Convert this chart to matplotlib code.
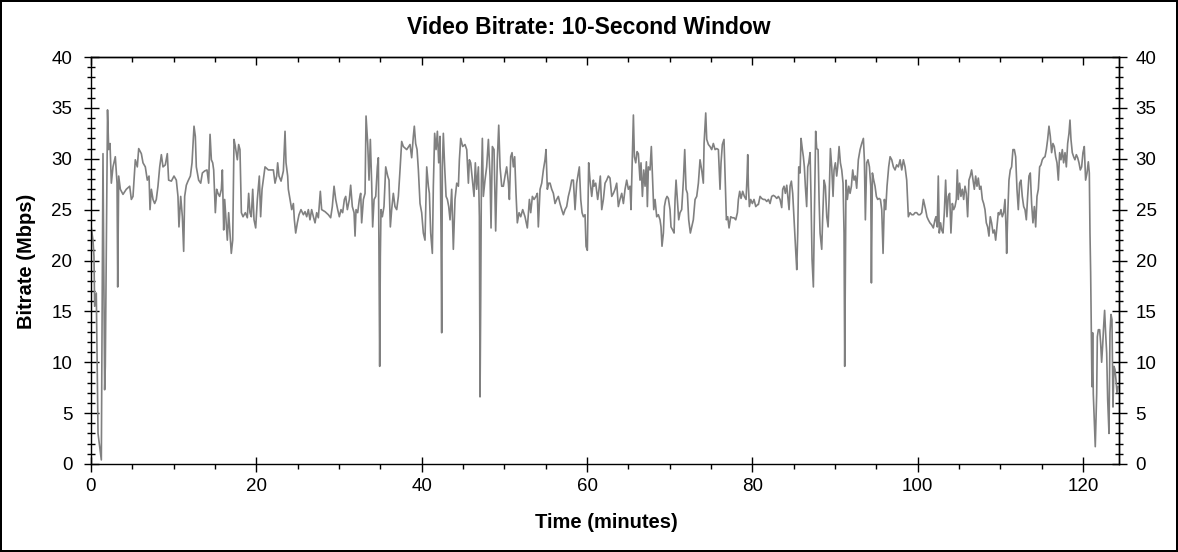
import numpy as np
import matplotlib.pyplot as plt
from matplotlib.ticker import MultipleLocator

plt.rcParams['font.family'] = ['Liberation Sans', 'DejaVu Sans']

t1 = [0.04, 0.24, 0.36, 0.44, 0.64, 0.85, 1.05, 1.25, 1.45, 1.65, 1.73, 2.0, 2.14, 2.30, 2.46,
      2.66, 2.94, 3.15, 3.23, 3.35, 3.55, 3.87, 4.27, 4.68, 4.88, 5.08, 5.36, 5.60, 5.77, 6.09,
      6.29, 6.57, 6.81, 7.02, 7.14, 7.30, 7.50, 7.70, 7.90, 8.10, 8.31, 8.51, 8.71, 8.99, 9.23,
      9.39, 9.72, 10.04, 10.32, 10.52, 10.64, 10.85, 11.05, 11.21, 11.33, 11.53, 11.73, 12.02, 12.22, 12.46,
      12.62, 12.74, 13.02, 13.27, 13.47, 13.75, 14.03, 14.23, 14.40, 14.56, 14.72, 14.84, 15.04, 15.20, 15.36,
      15.56, 15.77, 15.89, 16.05, 16.17, 16.33, 16.49, 16.65, 16.81, 16.97, 17.14, 17.30, 17.46, 17.70, 17.86,
      18.02, 18.19, 18.39, 18.67, 18.91, 19.07, 19.23, 19.39, 19.56, 19.72, 19.92, 20.12, 20.36, 20.52, 20.69]
v1 = [23.2, 22.0, 20.4, 15.5, 16.8, 3.0, 1.7, 0.4, 30.5, 7.3, 9.6, 34.8, 30.9, 31.5, 27.6,
      29.2, 30.2, 27.6, 17.4, 28.3, 27.0, 26.5, 27.0, 27.3, 26.0, 26.3, 29.9, 29.2, 31.0, 30.5,
      29.6, 29.2, 27.9, 28.3, 25.0, 27.0, 26.0, 25.6, 26.0, 27.3, 29.2, 30.4, 29.2, 29.4, 30.5,
      27.9, 27.8, 28.3, 27.9, 26.3, 23.3, 26.3, 24.3, 20.9, 26.3, 27.4, 27.8, 28.3, 29.6, 33.2,
      32.2, 29.2, 27.9, 27.6, 28.6, 28.8, 28.9, 27.6, 32.4, 29.9, 29.6, 28.9, 24.7, 27.0, 26.6,
      26.3, 27.0, 28.9, 23.0, 26.0, 24.0, 22.0, 24.7, 22.7, 20.7, 22.0, 31.9, 31.2, 29.9, 31.4,
      30.9, 24.7, 24.3, 24.7, 24.2, 26.6, 24.7, 24.3, 27.0, 24.0, 23.2, 26.0, 28.3, 24.3, 27.0]

t2 = [21.05, 21.45, 22.06, 22.26, 22.46, 22.58, 22.74, 22.99, 23.27, 23.47, 23.59, 23.79, 23.87, 24.07, 24.28,
      24.48, 24.60, 24.76, 24.96, 25.16, 25.40, 25.69, 25.89, 26.09, 26.29, 26.49, 26.69, 26.90, 27.10, 27.30,
      27.50, 27.74, 27.90, 28.31, 28.71, 28.99, 29.19, 29.40, 29.60, 29.84, 30.04, 30.24, 30.44, 30.65, 30.81,
      31.01, 31.25, 31.41, 31.61, 31.82, 31.94, 32.06, 32.26, 32.46, 32.62, 32.74, 32.95, 33.15, 33.27, 33.47,
      33.63, 33.79, 33.95, 34.07, 34.24, 34.44, 34.64, 34.76, 34.84, 34.92, 35.00, 35.08, 35.24, 35.44, 35.65,
      35.89, 36.05, 36.21, 36.37, 36.57, 36.77, 36.98, 37.18, 37.38, 37.58, 37.78, 38.19, 38.59, 38.79, 38.99,
      39.11, 39.27, 39.44, 39.60, 39.80, 40.00, 40.20, 40.40, 40.61, 40.81]
v2 = [29.2, 28.9, 28.9, 27.6, 28.3, 29.6, 28.3, 27.8, 28.8, 32.7, 29.6, 28.3, 27.0, 26.0, 25.0,
      25.6, 24.0, 22.7, 23.7, 24.5, 25.0, 24.5, 24.8, 24.3, 25.0, 24.0, 25.0, 24.3, 23.7, 24.7,
      24.2, 26.8, 25.0, 24.8, 24.5, 24.2, 25.3, 27.3, 26.0, 25.0, 24.3, 25.0, 24.7, 26.0, 26.3,
      25.0, 26.0, 27.4, 25.3, 24.7, 22.4, 25.0, 24.7, 26.0, 26.6, 23.7, 26.0, 26.6, 34.2, 31.5,
      27.9, 31.9, 27.6, 23.3, 26.0, 26.3, 29.2, 30.1, 19.4, 9.6, 20.4, 25.0, 24.3, 25.3, 29.2,
      28.3, 27.9, 23.3, 25.0, 26.6, 25.3, 25.0, 26.3, 28.9, 31.7, 31.2, 30.9, 31.4, 30.1, 32.2,
      33.2, 31.5, 30.9, 28.9, 25.6, 24.7, 22.7, 22.0, 29.2, 27.3]

t3 = [40.93, 41.09, 41.29, 41.41, 41.57, 41.74, 41.90, 42.06, 42.22, 42.34, 42.42, 42.50, 42.62, 42.78, 42.95,
      43.11, 43.27, 43.43, 43.63, 43.83, 44.03, 44.24, 44.44, 44.56, 44.72, 44.96, 45.24, 45.45, 45.65, 45.77,
      45.93, 46.17, 46.33, 46.49, 46.65, 46.86, 46.98, 47.06, 47.14, 47.22, 47.34, 47.46, 47.66, 47.86, 48.07,
      48.27, 48.39, 48.55, 48.75, 48.95, 49.15, 49.32, 49.48, 49.68, 49.88, 50.08, 50.28, 50.49, 50.61, 50.77,
      50.93, 51.09, 51.25, 51.41, 51.57, 51.78, 51.98, 52.22, 52.50, 52.78, 53.03, 53.19, 53.39, 53.59, 53.83,
      53.99, 54.11, 54.32, 54.52, 54.72, 54.92, 55.04, 55.20, 55.36, 55.53, 55.73, 55.93, 56.13, 56.33, 56.53,
      56.73, 56.94, 57.14, 57.34, 57.54, 57.74, 57.95, 58.15, 58.35, 58.55, 58.75, 58.95, 59.07, 59.24, 59.40,
      59.56, 59.76, 59.88, 60.04, 60.20, 60.36, 60.57, 60.77]
v3 = [26.6, 22.7, 20.7, 27.3, 32.5, 30.9, 32.7, 29.6, 32.2, 22.7, 12.9, 29.2, 32.5, 29.2, 26.3,
      26.0, 25.3, 24.0, 27.0, 21.1, 26.0, 27.6, 27.3, 29.9, 32.0, 31.2, 31.4, 30.9, 27.6, 29.9,
      29.6, 27.6, 26.3, 29.6, 27.0, 29.2, 24.3, 6.6, 16.1, 27.6, 32.0, 26.3, 27.9, 29.2, 31.9,
      28.3, 23.2, 31.2, 30.9, 22.9, 29.9, 33.3, 29.2, 27.3, 27.3, 28.3, 29.2, 27.6, 26.0, 30.2,
      30.6, 29.2, 30.2, 26.6, 23.7, 24.7, 24.3, 25.0, 24.3, 23.2, 26.0, 24.7, 26.3, 26.0, 26.3,
      26.6, 23.3, 27.0, 27.6, 28.9, 29.9, 30.9, 27.0, 27.6, 27.6, 27.0, 26.6, 25.6, 26.0, 26.3,
      25.6, 25.0, 24.5, 25.0, 25.3, 26.3, 27.0, 27.9, 27.9, 25.0, 27.6, 28.6, 29.2, 26.0, 24.7,
      24.3, 24.5, 21.4, 21.0, 29.6, 27.9, 26.3, 27.9]

t4 = [60.85, 61.05, 61.29, 61.45, 61.61, 61.78, 61.98, 62.18, 62.38, 62.58, 62.78, 62.99, 63.19, 63.39, 63.59,
      63.79, 63.99, 64.20, 64.40, 64.60, 64.80, 65.00, 65.20, 65.32, 65.49, 65.61, 65.73, 65.89, 66.05, 66.21,
      66.41, 66.53, 66.70, 66.86, 67.02, 67.18, 67.30, 67.42, 67.62, 67.78, 67.95, 68.07, 68.23, 68.43, 68.63,
      68.83, 68.95, 69.07, 69.24, 69.36, 69.52, 69.68, 69.84, 70.04, 70.16, 70.36, 70.53, 70.65, 70.77, 70.93,
      71.09, 71.25, 71.45, 71.66, 71.82, 71.98, 72.14, 72.30, 72.50, 72.66, 72.86, 73.07, 73.27, 73.47, 73.67,
      73.87, 74.07, 74.16, 74.36, 74.48, 74.68, 74.88, 75.08, 75.28, 75.49, 75.69, 75.89, 76.09, 76.21, 76.37,
      76.57, 76.69, 76.86, 77.02, 77.18, 77.38, 77.58, 77.78, 77.99, 78.19, 78.31, 78.47, 78.63, 78.83, 79.03,
      79.24, 79.36, 79.44, 79.52, 79.64, 79.80, 80.00, 80.20, 80.41, 80.65]
v4 = [27.3, 27.6, 26.0, 27.0, 28.3, 25.0, 26.0, 27.6, 27.9, 28.3, 28.1, 26.3, 26.6, 27.0, 27.6,
      25.3, 26.0, 26.6, 25.6, 27.0, 27.9, 27.0, 27.3, 25.0, 30.5, 34.3, 30.2, 29.6, 30.7, 30.5,
      27.9, 29.6, 26.3, 28.9, 27.3, 29.7, 25.3, 29.2, 28.9, 31.2, 27.6, 25.0, 26.0, 24.3, 24.5,
      24.0, 23.3, 21.4, 22.7, 25.3, 26.0, 26.3, 26.1, 25.0, 23.3, 23.0, 22.7, 26.0, 27.9, 26.0,
      24.0, 24.7, 25.0, 27.9, 30.9, 27.0, 26.6, 24.0, 22.7, 23.3, 24.0, 26.0, 26.3, 27.6, 29.9,
      28.9, 27.6, 31.5, 34.5, 31.9, 31.4, 31.2, 30.9, 31.5, 30.9, 31.0, 30.9, 27.0, 29.6, 31.4,
      31.9, 28.6, 24.0, 24.3, 23.2, 24.3, 24.2, 24.2, 24.0, 24.7, 26.0, 26.8, 26.1, 26.8, 26.3,
      26.0, 28.3, 30.4, 27.3, 25.3, 26.0, 25.6, 26.0, 25.3, 25.5]

t5 = [80.73, 80.93, 81.13, 81.33, 81.53, 81.74, 81.94, 82.14, 82.34, 82.54, 82.74, 82.95, 83.15, 83.35, 83.55,
      83.67, 83.83, 83.99, 84.16, 84.32, 84.44, 84.56, 84.72, 84.88, 85.00, 85.12, 85.24, 85.37, 85.49, 85.61,
      85.77, 85.89, 86.05, 86.17, 86.29, 86.41, 86.57, 86.70, 86.82, 86.98, 87.10, 87.22, 87.38, 87.50, 87.66,
      87.78, 87.95, 88.07, 88.19, 88.39, 88.51, 88.67, 88.83, 89.00, 89.16, 89.28, 89.44, 89.60, 89.76, 89.88,
      90.04, 90.20, 90.32, 90.49, 90.65, 90.81, 90.97, 91.09, 91.17, 91.25, 91.33, 91.49, 91.66, 91.82, 91.98,
      92.14, 92.30, 92.46, 92.62, 92.82, 93.03, 93.23, 93.43, 93.55, 93.67, 93.83, 93.99, 94.16, 94.32, 94.40,
      94.52, 94.68, 94.84, 95.00, 95.16, 95.33, 95.49, 95.65, 95.81, 95.97, 96.13, 96.29, 96.49, 96.66, 96.86,
      97.06, 97.26, 97.46, 97.66, 97.87, 98.07, 98.27, 98.47, 98.67, 98.87, 99.07, 99.28, 99.48, 99.68, 99.88,
      100.08, 100.28, 100.49, 100.69]
v5 = [25.5, 26.3, 26.1, 26.0, 26.0, 25.8, 26.0, 25.6, 26.3, 26.4, 26.3, 26.1, 26.3, 26.0, 25.2,
      27.0, 27.3, 26.6, 27.4, 26.0, 25.0, 27.3, 27.8, 26.6, 24.7, 22.7, 21.0, 19.1, 22.7, 29.2,
      28.6, 32.0, 30.9, 30.2, 29.2, 27.3, 25.3, 29.2, 29.6, 30.6, 26.0, 20.1, 17.4, 24.3, 32.7,
      31.0, 30.9, 26.0, 22.7, 21.1, 24.3, 27.9, 27.3, 24.3, 23.3, 26.0, 31.0, 29.2, 26.3, 28.9,
      29.6, 28.3, 29.2, 31.2, 29.6, 28.9, 27.6, 22.7, 9.6, 19.4, 27.9, 26.0, 27.3, 26.6, 27.3,
      28.9, 27.9, 28.3, 27.1, 29.9, 30.9, 31.5, 32.0, 29.9, 24.0, 29.6, 29.9, 29.2, 27.3, 17.8,
      28.6, 27.9, 27.3, 26.3, 26.0, 26.1, 26.0, 25.0, 20.7, 26.0, 25.0, 27.3, 29.2, 30.2, 29.9,
      29.2, 28.9, 29.4, 29.2, 29.9, 28.9, 29.9, 29.2, 27.9, 24.3, 24.7, 24.5, 24.5, 24.7, 24.7,
      24.5, 24.5, 24.7, 26.0]

t6 = [100.80, 100.96, 101.12, 101.28, 101.48, 101.69, 101.89, 102.09, 102.21, 102.37, 102.49, 102.61, 102.77, 102.90, 103.06,
      103.22, 103.38, 103.54, 103.70, 103.86, 104.02, 104.19, 104.35, 104.51, 104.67, 104.79, 104.91, 105.07, 105.23, 105.40,
      105.56, 105.72, 105.88, 106.04, 106.20, 106.36, 106.52, 106.69, 106.85, 107.01, 107.17, 107.33, 107.49, 107.65, 107.82,
      107.98, 108.14, 108.30, 108.46, 108.62, 108.78, 108.94, 109.11, 109.27, 109.43, 109.59, 109.75, 109.91, 110.07, 110.23,
      110.40, 110.56, 110.68, 110.76, 110.88, 111.04, 111.20, 111.36, 111.52, 111.69, 111.85, 112.01, 112.17, 112.33, 112.49,
      112.65, 112.82, 112.98, 113.14, 113.30, 113.46, 113.62, 113.78, 113.94, 114.11, 114.27, 114.43, 114.59, 114.75, 114.91,
      115.07, 115.23, 115.40, 115.56, 115.72, 115.88, 116.04, 116.20, 116.36, 116.52, 116.69, 116.85, 117.01, 117.17, 117.33,
      117.49, 117.65, 117.82, 117.98, 118.14, 118.30, 118.42, 118.54, 118.70, 118.86, 119.02, 119.19, 119.35, 119.51, 119.67,
      119.83, 119.99, 120.15, 120.31, 120.48, 120.64, 120.76, 120.84, 120.92, 121.00, 121.08, 121.16, 121.24, 121.36, 121.48,
      121.65, 121.73, 121.85, 122.01, 122.13, 122.25, 122.37, 122.49, 122.61, 122.73, 122.86, 122.98, 123.14, 123.26, 123.38,
      123.50, 123.62, 123.74, 123.86, 123.98, 124.11, 124.23]
v6 = [25.6, 25.0, 24.3, 24.0, 23.7, 23.5, 23.2, 24.0, 24.3, 23.3, 28.3, 22.7, 23.7, 23.0, 22.7,
      24.7, 27.9, 24.3, 26.3, 26.6, 22.7, 25.6, 25.0, 25.3, 26.0, 28.9, 26.0, 27.6, 26.3, 27.0,
      26.0, 27.3, 26.6, 24.3, 27.9, 28.3, 28.9, 27.9, 27.0, 28.3, 27.3, 28.1, 27.0, 27.3, 26.0,
      25.6, 25.0, 23.7, 23.3, 22.4, 24.3, 23.7, 22.7, 23.0, 22.0, 23.3, 24.7, 24.5, 25.0, 24.3,
      24.7, 26.0, 23.3, 20.7, 24.3, 27.9, 28.9, 29.2, 30.9, 30.9, 30.2, 27.0, 25.0, 27.6, 27.9,
      26.3, 25.3, 25.0, 24.0, 26.3, 28.3, 28.6, 25.6, 23.7, 25.3, 23.3, 26.3, 27.0, 29.2, 29.4,
      29.9, 30.1, 30.2, 30.9, 31.9, 33.2, 32.2, 30.6, 31.5, 31.2, 30.2, 29.6, 27.9, 30.6, 29.9,
      30.9, 29.6, 30.6, 29.2, 31.5, 32.5, 33.8, 31.9, 30.6, 30.2, 29.9, 30.4, 30.1, 29.6, 28.9,
      29.2, 30.6, 31.2, 27.9, 28.6, 29.7, 28.6, 22.7, 18.8, 12.9, 7.6, 12.9, 6.9, 4.3, 1.7,
      6.9, 12.5, 13.2, 13.2, 11.9, 10.0, 11.6, 13.5, 15.1, 12.9, 10.9, 6.3, 3.0, 12.9, 14.7,
      14.2, 5.6, 9.6, 9.3, 8.3, 7.0, 7.6]

tiempo = np.concatenate([t1, t2, t3, t4, t5, t6])
bitrate = np.concatenate([v1, v2, v3, v4, v5, v6])

W, H = 1178, 552
fig = plt.figure(figsize=(W / 100, H / 100), dpi=100, facecolor='white',
                 edgecolor='black', linewidth=1.5)
ax = fig.add_axes([91 / W, 1 - 464 / H, (1119 - 91) / W, (464 - 57) / H])

ax.plot(tiempo, bitrate, color='#808080', linewidth=1.2)
ax.set_xlim(0, 124.35)
ax.set_ylim(0, 40)

for s in ax.spines.values():
    s.set_linewidth(1.0)

ax.xaxis.set_major_locator(MultipleLocator(20))
ax.xaxis.set_minor_locator(MultipleLocator(5))
ax.yaxis.set_major_locator(MultipleLocator(5))
ax.yaxis.set_minor_locator(MultipleLocator(1))

ax.tick_params(axis='x', which='major', direction='inout', length=10.8, width=1, pad=5, labelsize=13.5)
ax.tick_params(axis='x', which='minor', direction='out', length=3.6, width=1)
ax.tick_params(axis='y', which='major', direction='inout', length=10.8, width=1, pad=8, labelsize=13.5)
ax.tick_params(axis='y', which='minor', direction='inout', length=5.5, width=1)

# eje superior: solo marcas hacia dentro
arriba = ax.secondary_xaxis('top')
arriba.xaxis.set_major_locator(MultipleLocator(20))
arriba.xaxis.set_minor_locator(MultipleLocator(5))
arriba.tick_params(axis='x', which='major', direction='in', length=5.8, width=1, labeltop=False)
arriba.tick_params(axis='x', which='minor', direction='in', length=3.6, width=1)
arriba.spines['top'].set_linewidth(1.0)

# eje derecho con etiquetas
derecha = ax.secondary_yaxis('right')
derecha.yaxis.set_major_locator(MultipleLocator(5))
derecha.yaxis.set_minor_locator(MultipleLocator(1))
derecha.tick_params(axis='y', which='major', direction='inout', length=10.8, width=1, pad=6.5, labelsize=13.5)
derecha.tick_params(axis='y', which='minor', direction='inout', length=5.8, width=1)
derecha.spines['right'].set_linewidth(1.0)

fig.text(0.5, 1 - 27 / H, "Video Bitrate: 10-Second Window", ha='center', va='center',
         fontsize=16.5, fontweight='bold')
fig.text(27 / W, 1 - 261 / H, "Bitrate (Mbps)", ha='center', va='center', rotation=90,
         fontsize=14.5, fontweight='bold')
fig.text(606 / W, 1 - 523 / H, "Time (minutes)", ha='center', va='center',
         fontsize=14.5, fontweight='bold')

fig.savefig('out.png', dpi=100, facecolor='white', edgecolor='black')
